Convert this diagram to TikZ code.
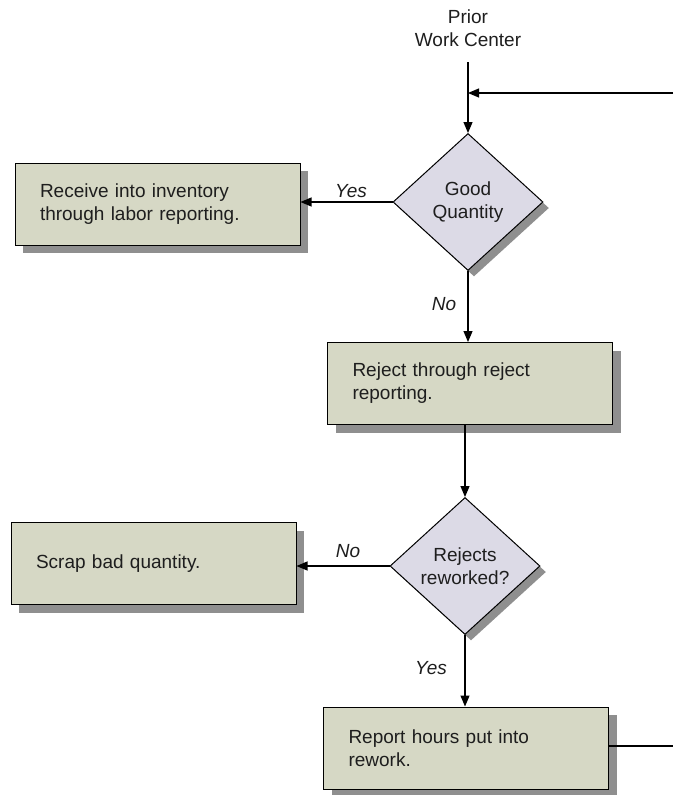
\documentclass[tikz,border=0pt]{standalone}
\usepackage{fontspec}
\setmainfont{Liberation Sans}
\usetikzlibrary{shapes.geometric,shadows,arrows.meta}
\definecolor{boxfill}{HTML}{D6D8C5}
\definecolor{diamfill}{HTML}{DCDAE6}
\definecolor{shadowgray}{HTML}{8F8F8F}
\definecolor{inkgray}{HTML}{1E1E1E}
\tikzset{
	flowfont/.style={font=\fontsize{19}{23}\selectfont, text=inkgray},
	taskbox/.style={flowfont, draw=black, line width=1pt, fill=boxfill,
		minimum height=82pt, text width=235pt, inner xsep=25pt, align=left,
		drop shadow={shadow xshift=8pt, shadow yshift=-8pt, fill=shadowgray, opacity=1}},
	decision/.style={flowfont, shape=diamond, draw=black, line width=1pt, fill=diamfill,
		minimum width=150pt, minimum height=137pt, inner sep=0pt, align=center,
		drop shadow={shadow xshift=6pt, shadow yshift=-6pt, fill=shadowgray, opacity=1}},
	flowarrow/.style={line width=1.2pt, -{Triangle[length=11pt,width=9pt]}},
	flowline/.style={line width=1.2pt},
	branchlabel/.style={flowfont, font=\fontsize{19}{23}\selectfont\itshape}
}

\begin{document}
\begin{tikzpicture}[x=1pt, y=-1pt]
			%%%%% START %%%%%
			\useasboundingbox (0, 0) rectangle (673, 795);
			
			\node[flowfont, align=center, inner sep=0pt] (prior) at (468, 28) {Prior\\Work Center};
			\coordinate (feed) at (468, 62);
			\coordinate (loopin) at (673, 93);
			
			\node[decision] (good) at (468, 202) {Good\\Quantity};
			\node[taskbox] (receive) at (157.5, 204) {Receive into inventory\\through labor reporting.};
			\node[taskbox] (reject) at (470, 383.5) {Reject through reject\\reporting.};
			
			\node[decision] (rework) at (465, 566) {Rejects\\reworked?};
			\node[taskbox] (scrap) at (153.5, 563.5) {Scrap bad quantity.};
			\node[taskbox] (hours) at (466, 748) {Report hours put into\\rework.};
			\coordinate (loopout) at (673, 746);
			
			\node[branchlabel] (yesgood) at (351, 191) {Yes};
			\node[branchlabel] (nogood) at (444, 304) {No};
			\node[branchlabel] (norework) at (348, 551) {No};
			\node[branchlabel] (yesrework) at (431, 668) {Yes};
			
			\draw[flowarrow] (feed) -- (good.north);
			\draw[flowarrow] (loopin) -- (loopin -| good.north);
			\draw[flowarrow] (good.west) -- (good.west -| receive.east);
			\draw[flowarrow] (good.south) -- (good.south |- reject.north);
			\draw[flowarrow] (rework.north |- reject.south) -- (rework.north);
			\draw[flowarrow] (rework.west) -- (rework.west -| scrap.east);
			\draw[flowarrow] (rework.south) -- (rework.south |- hours.north);
			\draw[flowline] (hours.east |- loopout) -- (loopout);
			
			%%%%% END %%%%%
\end{tikzpicture}
\end{document}
